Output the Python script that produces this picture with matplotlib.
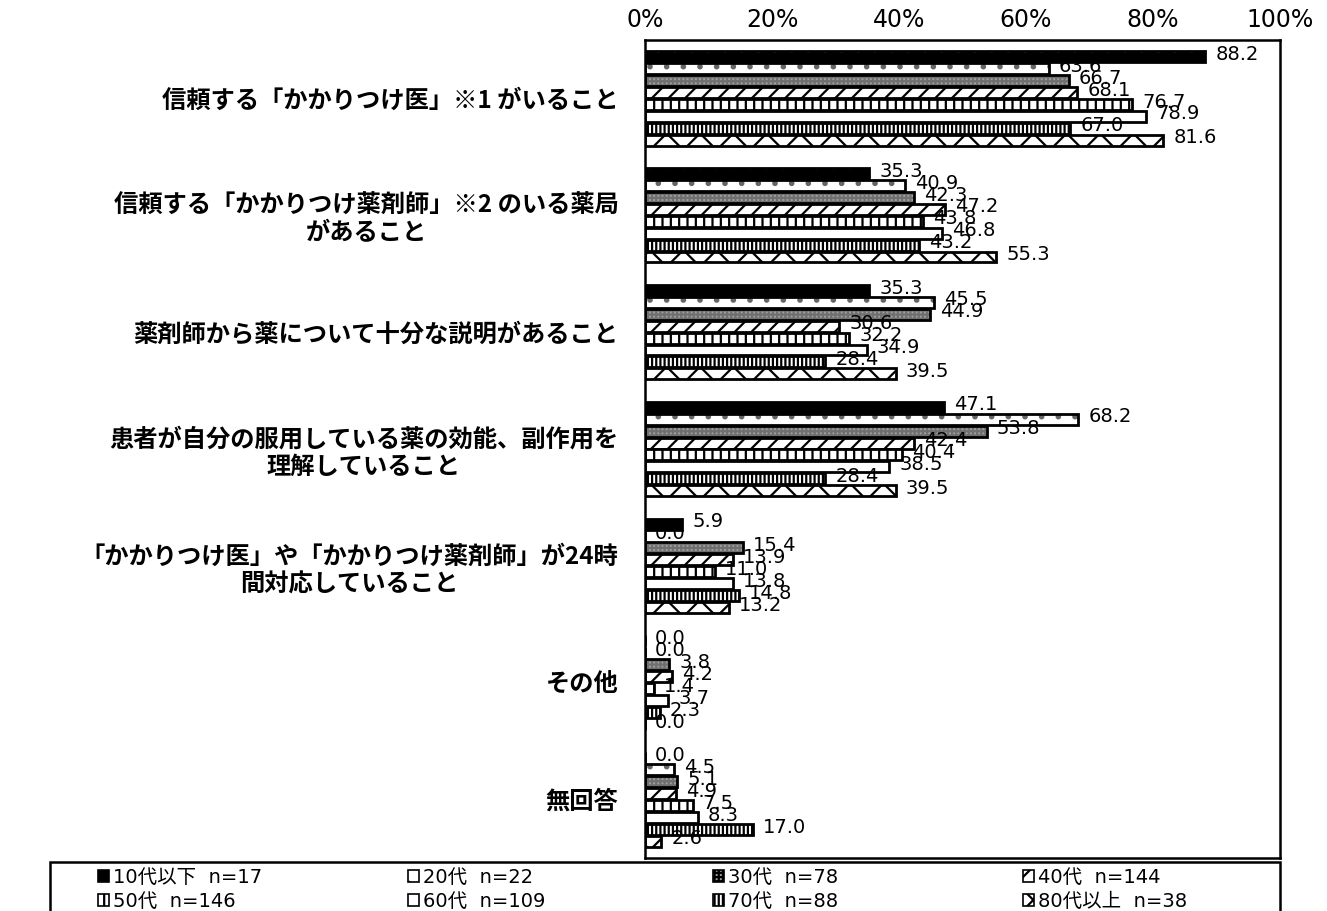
import matplotlib.pyplot as plt
import matplotlib.patches as mpatches
import numpy as np

plt.rcParams['font.family'] = ['Noto Sans CJK JP', 'DejaVu Sans']
plt.rcParams['hatch.linewidth'] = 1.6

categories = [
    '信頼する「かかりつけ医」※1 がいること',
    '信頼する「かかりつけ薬剤師」※2 のいる薬局\nがあること',
    '薬剤師から薬について十分な説明があること',
    '患者が自分の服用している薬の効能、副作用を\n理解していること',
    '「かかりつけ医」や「かかりつけ薬剤師」が24時\n間対応していること',
    'その他',
    '無回答',
]
series_names = ['10代以下  n=17', '20代  n=22', '30代  n=78', '40代  n=144',
                '50代  n=146', '60代  n=109', '70代  n=88', '80代以上  n=38']
values = [
    [88.2, 35.3, 35.3, 47.1, 5.9, 0.0, 0.0],
    [63.6, 40.9, 45.5, 68.2, 0.0, 0.0, 4.5],
    [66.7, 42.3, 44.9, 53.8, 15.4, 3.8, 5.1],
    [68.1, 47.2, 30.6, 42.4, 13.9, 4.2, 4.9],
    [76.7, 43.8, 32.2, 40.4, 11.0, 1.4, 7.5],
    [78.9, 46.8, 34.9, 38.5, 13.8, 3.7, 8.3],
    [67.0, 43.2, 28.4, 28.4, 14.8, 2.3, 17.0],
    [81.6, 55.3, 39.5, 39.5, 13.2, 0.0, 2.6],
]

# face colour, hatch colour, hatch pattern
styles = [
    ('black', '#dddddd', '.'),
    ('white', '#666666', '.'),
    ('#a0a0a0', '#707070', '++++'),
    ('white', 'black', '//'),
    ('white', 'black', '||'),
    ('white', 'white', ''),
    ('white', 'black', '||||'),
    ('white', 'black', 'x'),
]

fig = plt.figure(figsize=(13.27, 9.11), dpi=100)
ax = fig.add_axes([0.486, 0.0582, 0.4786, 0.8979])

n_cat = len(categories)
n_ser = len(series_names)
bh = 0.102
y_centers = np.arange(n_cat)

for i in range(n_ser):
    y = y_centers - (n_ser - 1) / 2 * bh + i * bh
    fc, hc, hatch = styles[i]
    ax.barh(y, values[i], height=bh * 0.92, color=fc, edgecolor=hc, hatch=hatch, linewidth=0)
    ax.barh(y, values[i], height=bh * 0.92, fill=False, edgecolor='black', linewidth=2)
    for yy, v in zip(y, values[i]):
        ax.text(v + 1.6, yy - 0.02, f'{v:.1f}', va='center', ha='left', fontsize=14,
                family='DejaVu Sans')

ax.set_xlim(0, 100)
ax.set_ylim(n_cat - 0.5, -0.5)
ax.xaxis.tick_top()
ax.set_xticks([0, 20, 40, 60, 80, 100])
ax.set_xticklabels(['0%', '20%', '40%', '60%', '80%', '100%'], fontsize=17,
                   family='DejaVu Sans')
ax.tick_params(axis='x', length=0, pad=6)
ax.set_yticks(y_centers)
ax.set_yticklabels(categories, fontsize=17.5, fontweight='bold', multialignment='center')
ax.tick_params(axis='y', length=0, pad=19)
for s in ax.spines.values():
    s.set_linewidth(1.8)

# legend: frame box plus one small legend per column (row-major 2 x 4)
frame = mpatches.Rectangle((50 / 1327, -0.01), 1230 / 1327, 0.064, transform=fig.transFigure,
                           fill=False, edgecolor='black', linewidth=1.8)
fig.patches.append(frame)
col_x = [98, 408, 713, 1023]
for c in range(4):
    idx = [c, c + 4]
    hs = [mpatches.Patch(facecolor=styles[k][0], edgecolor='black', hatch=styles[k][2],
                         linewidth=1.2) for k in idx]
    fig.legend(hs, [series_names[k] for k in idx], loc='upper left',
               bbox_to_anchor=(col_x[c] / 1327, 0.047), frameon=False,
               prop={'family': ['DejaVu Sans', 'Noto Sans CJK JP'], 'size': 14},
               handlelength=0.55, handleheight=0.55, handletextpad=0.2,
               borderaxespad=0, borderpad=0, labelspacing=0.25)

fig.savefig('out.png', dpi=100)
